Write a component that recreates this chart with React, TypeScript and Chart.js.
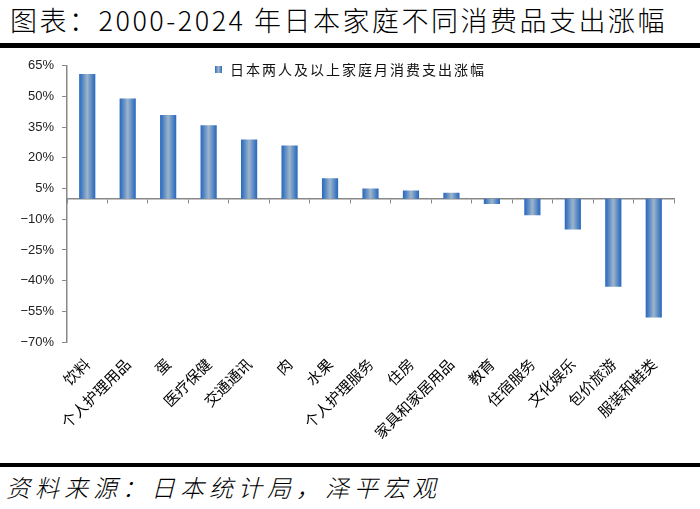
import React, { useEffect, useRef } from 'react';
import { Chart, registerables } from 'chart.js';

Chart.register(...registerables);

const titleText = '图表：2000-2024 年日本家庭不同消费品支出涨幅';
const sourceText = '资料来源：日本统计局，泽平宏观';
const seriesName = '日本两人及以上家庭月消费支出涨幅';
const categories = [
  '饮料', '个人护理用品', '蛋', '医疗保健', '交通通讯', '肉', '水果', '个人护理服务',
  '住房', '家具和家居用品', '教育', '住宿服务', '文化娱乐', '包价旅游', '服装和鞋类',
];
const growth = [61, 49, 41, 36, 29, 26, 10, 5, 4, 3, -2.5, -8, -15, -43, -58];
const yTicks = [65, 50, 35, 20, 5, -10, -25, -40, -55, -70];

const CJK = '"Noto Sans CJK SC", "Noto Sans CJK JP", sans-serif';

const legendPlugin = {
  id: 'customLegend',
  afterDraw(chart: any) {
    const c = chart.ctx;
    const label = chart.data.datasets[0].label;
    c.save();
    const g = c.createLinearGradient(215, 0, 222, 0);
    g.addColorStop(0, '#2e6cbe');
    g.addColorStop(0.5, '#9fb6ca');
    g.addColorStop(1, '#2e6cbe');
    c.fillStyle = g;
    c.fillRect(215, 16, 7, 7);
    c.fillStyle = '#111';
    c.font = `14px ${CJK}`;
    (c as any).letterSpacing = '2px';
    c.textBaseline = 'middle';
    c.textAlign = 'left';
    c.fillText(label, 230, 19.5);
    c.restore();
  },
};

function BarChart() {
  const ref = useRef<HTMLCanvasElement | null>(null);
  useEffect(() => {
    if (!ref.current) return;
    const chart = new Chart(ref.current, {
      type: 'bar',
      data: {
        labels: categories,
        datasets: [
          {
            label: seriesName,
            data: growth,
            xAxisID: 'x',
            yAxisID: 'y',
            barPercentage: 0.4,
            categoryPercentage: 1,
            borderWidth: 0,
            backgroundColor: (ctx: any) => {
              const chart = ctx.chart;
              const area = chart.chartArea;
              if (!area || ctx.dataIndex === undefined) return '#6f9ac4';
              const xs = chart.scales.x;
              const cx = xs.getPixelForValue(ctx.dataIndex);
              const w = ((area.right - area.left) / categories.length) * 0.4;
              const g = chart.ctx.createLinearGradient(cx - w / 2, 0, cx + w / 2, 0);
              g.addColorStop(0, '#2a69bd');
              g.addColorStop(0.12, '#3f78c2');
              g.addColorStop(0.5, '#9db5ca');
              g.addColorStop(0.88, '#3f78c2');
              g.addColorStop(1, '#2a69bd');
              return g;
            },
          },
        ],
      },
      options: {
        animation: false,
        responsive: false,
        maintainAspectRatio: false,
        layout: { padding: { top: 14, right: 26, left: 0, bottom: 0 } },
        plugins: { legend: { display: false }, tooltip: { enabled: false } },
        scales: {
          x: {
            type: 'category',
            position: { y: 0 } as any,
            offset: true,
            grid: { offset: true, drawOnChartArea: false, drawTicks: true, tickLength: 4, color: '#888', lineWidth: 1 },
            border: { color: '#888', width: 1.5 },
            ticks: { display: false },
          },
          x2: {
            type: 'category',
            axis: 'x',
            position: 'bottom',
            offset: true,
            grid: { display: false, drawTicks: false },
            border: { display: false },
            ticks: {
              autoSkip: false,
              minRotation: 45,
              maxRotation: 45,
              padding: 13,
              color: '#000',
              font: { family: CJK, size: 15 },
            },
            afterFit: (s: any) => {
              s.height = 118;
            },
          },
          y: {
            type: 'linear',
            position: 'left',
            min: -70,
            max: 65,
            afterBuildTicks: (s: any) => {
              s.ticks = yTicks.map((v) => ({ value: v }));
            },
            grid: { drawOnChartArea: false, drawTicks: true, tickLength: 5, color: '#888' },
            border: { color: '#888', width: 1.5 },
            ticks: {
              padding: 8,
              color: '#222',
              font: { family: '"Liberation Sans", Arial, sans-serif', size: 13 },
              callback: (v: any) => (Number(v) < 0 ? '\u2212' + Math.abs(Number(v)) : String(v)) + '%',
            },
            afterFit: (s: any) => {
              s.width = 67;
            },
          },
        },
      },
      plugins: [legendPlugin],
    });
    return () => chart.destroy();
  }, []);
  return <canvas ref={ref} width={700} height={410} style={{ width: 700, height: 410, display: 'block' }} />;
}

export default function App() {
  return (
    <div style={{ position: 'fixed', left: 0, top: 0, width: 700, height: 509, background: '#fff', overflow: 'hidden' }}>
      <div
        style={{
          position: 'absolute',
          left: 10,
          top: 1,
          fontFamily: CJK,
          fontSize: 27,
          fontWeight: 300,
          letterSpacing: 2.5,
          lineHeight: '38px',
          color: '#000',
          whiteSpace: 'nowrap',
        }}
      >
        {titleText}
      </div>
      <div style={{ position: 'absolute', left: 0, top: 43, width: 700, height: 5, background: '#000' }} />
      <div style={{ position: 'absolute', left: 0, top: 50, width: 700, height: 410 }}>
        <BarChart />
      </div>
      <div style={{ position: 'absolute', left: 0, top: 463, width: 700, height: 4, background: '#000' }} />
      <div
        style={{
          position: 'absolute',
          left: 6,
          top: 469,
          fontFamily: CJK,
          fontSize: 24,
          fontStyle: 'italic',
          fontWeight: 300,
          letterSpacing: 5,
          lineHeight: '36px',
          color: '#000',
          whiteSpace: 'nowrap',
        }}
      >
        {sourceText}
      </div>
    </div>
  );
}
